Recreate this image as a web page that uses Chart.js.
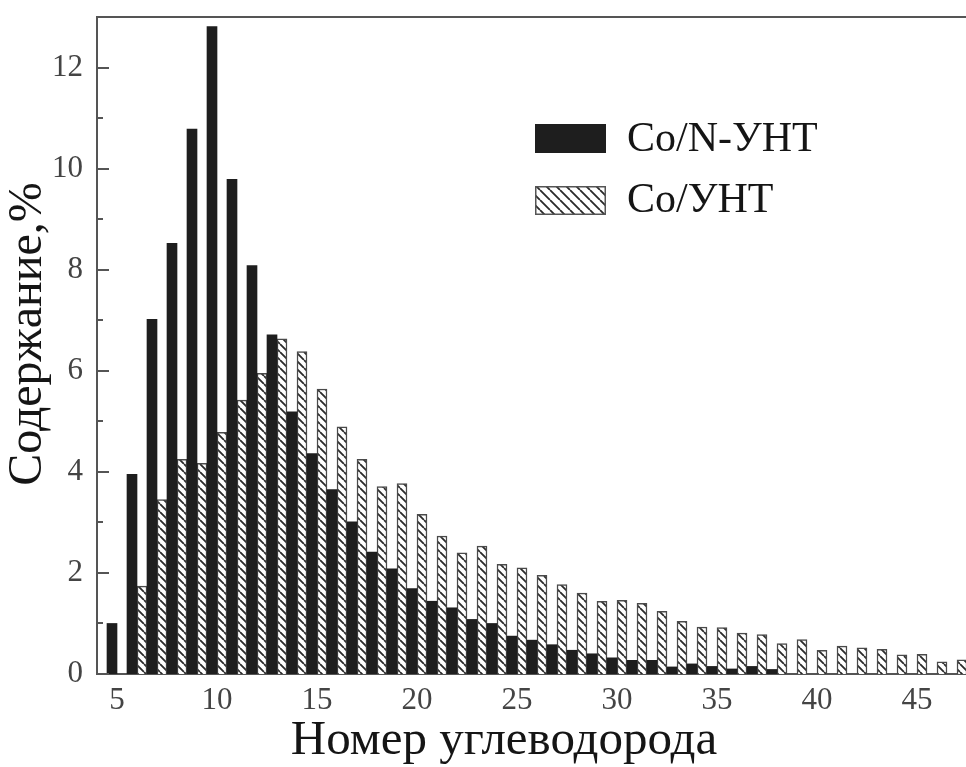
<!DOCTYPE html>
<html><head><meta charset="utf-8">
<script src="https://cdn.jsdelivr.net/npm/chart.js@4.4.0/dist/chart.umd.min.js"></script>
<style>html,body{margin:0;padding:0;background:#fff;overflow:hidden}#wrap{width:966px;height:767px}</style>
</head><body><div id="wrap"><canvas id="c" width="966" height="767"></canvas></div>
<script>
const carbonNumbers = [5,6,7,8,9,10,11,12,13,14,15,16,17,18,19,20,21,22,23,24,25,26,27,28,29,30,31,32,33,34,35,36,37,38,39,40,41,42,43,44,45,46,47];
const coNCNT = [1.00,3.95,7.02,8.52,10.78,12.81,9.79,8.08,6.71,5.19,4.36,3.65,3.01,2.41,2.08,1.69,1.44,1.31,1.08,1.00,0.75,0.67,0.58,0.47,0.40,0.32,0.27,0.27,0.14,0.20,0.15,0.10,0.15,0.09,null,null,null,null,null,null,null,null,null];
const coCNT = [null,1.74,3.45,4.25,4.17,4.78,5.42,5.95,6.63,6.38,5.64,4.89,4.25,3.71,3.77,3.16,2.73,2.40,2.53,2.17,2.10,1.95,1.77,1.60,1.44,1.46,1.40,1.24,1.04,0.93,0.92,0.81,0.78,0.60,0.68,0.47,0.55,0.52,0.49,0.38,0.39,0.24,0.28];
const seriesNames = ['Co/N-УНТ', 'Co/УНТ'];
const xTickValues = [5,10,15,20,25,30,35,40,45];
const yTickValues = [0,2,4,6,8,10,12];
const yMinorTickValues = [1,3,5,7,9,11];
const xTitle = 'Номер углеводорода';
const yTitle = 'Содержание,%';

function makeHatch(size, lw) {
  const pc = document.createElement('canvas');
  pc.width = size; pc.height = size;
  const p = pc.getContext('2d');
  p.fillStyle = '#ffffff'; p.fillRect(0, 0, size, size);
  p.strokeStyle = '#2a2a2a'; p.lineWidth = lw;
  p.beginPath();
  for (let k = -1; k <= 1; k++) { p.moveTo(k * size, 0); p.lineTo(k * size + size, size); }
  p.stroke();
  return p.createPattern(pc, 'repeat');
}
const ctx0 = document.getElementById('c').getContext('2d');
const hatch = makeHatch(8, 1.8);
const hatchLegend = makeHatch(10, 1.8);

const serif = '"Liberation Serif", "Times New Roman", serif';

const decor = {
  id: 'decor',
  afterDraw(chart) {
    const {ctx, chartArea: a, scales: {y}} = chart;
    ctx.save();
    ctx.strokeStyle = '#555'; ctx.lineWidth = 2;
    ctx.beginPath(); ctx.moveTo(a.left - 1, a.top); ctx.lineTo(a.right, a.top); ctx.stroke();
    ctx.beginPath();
    yTickValues.forEach(v => { const py = Math.round(y.getPixelForValue(v)); ctx.moveTo(a.left, py); ctx.lineTo(a.left + 12, py); });
    yMinorTickValues.forEach(v => { const py = Math.round(y.getPixelForValue(v)); ctx.moveTo(a.left, py); ctx.lineTo(a.left + 6, py); });
    ctx.stroke();
    ctx.fillStyle = '#151515';
    ctx.font = '49px ' + serif;
    ctx.textAlign = 'center'; ctx.textBaseline = 'middle';
    ctx.fillText(xTitle, 504, 741);
    ctx.save();
    ctx.translate(28, 334); ctx.rotate(-Math.PI / 2);
    ctx.font = '48px ' + serif;
    ctx.fillText(yTitle, 0, 0);
    ctx.restore();
    const lx = 535, lw = 71, lh = 29;
    ctx.fillStyle = '#1e1e1e';
    ctx.fillRect(lx, 124, lw, lh);
    ctx.fillStyle = hatchLegend;
    ctx.fillRect(lx, 186, lw, lh);
    ctx.strokeStyle = '#555'; ctx.lineWidth = 1.5;
    ctx.strokeRect(lx + 0.75, 186.75, lw - 1.5, lh - 1.5);
    ctx.fillStyle = '#151515';
    ctx.font = '42px ' + serif;
    ctx.textAlign = 'left';
    ctx.fillText(seriesNames[0], 627, 140);
    ctx.fillText(seriesNames[1], 627, 201);
    ctx.restore();
  }
};

function noPad(s) { s.paddingTop = 0; s.paddingBottom = 0; s.paddingLeft = 0; s.paddingRight = 0; }

new Chart(ctx0, {
  type: 'bar',
  data: {
    datasets: [
      { label: seriesNames[0], data: carbonNumbers.map((n, i) => ({x: n, y: coNCNT[i]})), backgroundColor: '#1e1e1e', borderWidth: 0 },
      { label: seriesNames[1], data: carbonNumbers.map((n, i) => ({x: n, y: coCNT[i]})), backgroundColor: hatch, borderColor: '#4a4a4a', borderWidth: 1.5 }
    ]
  },
  options: {
    responsive: false,
    animation: false,
    devicePixelRatio: 1,
    layout: { padding: { top: 17, left: 0, right: 0, bottom: 0 } },
    datasets: { bar: { barPercentage: 1, categoryPercentage: 1 } },
    plugins: { legend: { display: false }, tooltip: { enabled: false } },
    scales: {
      x: {
        type: 'linear', min: 4, max: 47.45, offset: false,
        grid: { display: false, drawTicks: false },
        border: { display: true, color: '#555', width: 2 },
        ticks: { padding: 8, color: '#444', font: { family: serif, size: 31 }, maxRotation: 0 },
        afterBuildTicks: s => { s.ticks = xTickValues.map(v => ({value: v})); },
        afterFit: s => { s.height = 93; noPad(s); }
      },
      y: {
        min: 0, max: 13,
        grid: { display: false, drawTicks: false },
        border: { display: true, color: '#555', width: 2 },
        ticks: { padding: 14, color: '#444', font: { family: serif, size: 31 } },
        afterBuildTicks: s => { s.ticks = yTickValues.map(v => ({value: v})); },
        afterFit: s => { s.width = 97; noPad(s); }
      }
    }
  },
  plugins: [decor]
});
</script>
</body></html>
